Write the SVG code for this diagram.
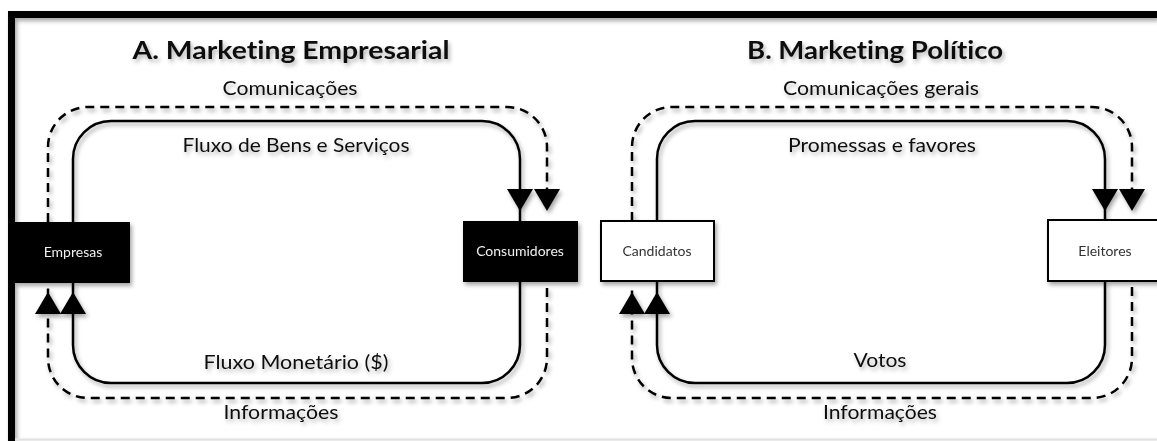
<svg xmlns="http://www.w3.org/2000/svg" width="1157" height="441" viewBox="0 0 1157 441">
  <defs>
    <filter id="sh" x="-20%" y="-20%" width="140%" height="140%">
      <feDropShadow dx="2" dy="3" stdDeviation="2" flood-color="#000" flood-opacity="0.35"/>
    </filter>
    <filter id="tsh" x="-10%" y="-30%" width="120%" height="160%">
      <feDropShadow dx="2" dy="3" stdDeviation="2" flood-color="#000" flood-opacity="0.3"/>
    </filter>
  </defs>
  <style>
    text { font-variant-ligatures: none; font-feature-settings: "liga" 0, "clig" 0; }
    .title { font-family: Lato, "Open Sans", "Liberation Sans", sans-serif; font-weight: bold; font-size: 24px; fill: #111; text-anchor: middle; }
    .lbl { font-family: Lato, "Open Sans", "Liberation Sans", sans-serif; font-size: 20px; fill: #111; text-anchor: middle; }
    .btxt { font-family: Lato, "Open Sans", "Liberation Sans", sans-serif; font-size: 14px; text-anchor: middle; }
    .solid { fill: none; stroke: #000; stroke-width: 2.5; }
    .dash { fill: none; stroke: #000; stroke-width: 2.5; stroke-dasharray: 9 6; }
    .arr { fill: #000; }
    .dark { fill: #000; }
    .light { fill: #fff; stroke: #000; stroke-width: 2; }
  </style>
  <rect width="1157" height="441" fill="#fff"/>

  <!-- frame -->
  <g id="frame" filter="url(#sh)">
    <line x1="15" y1="439.5" x2="1157" y2="439.5" stroke="#e2e2e2" stroke-width="2"/>
    <path d="M11.5 441 V14.5 H1157" fill="none" stroke="#000" stroke-width="7"/>
  </g>

  <!-- titles and labels -->
  <g id="labels" filter="url(#tsh)">
    <text class="title" x="291" y="59" textLength="317" lengthAdjust="spacingAndGlyphs">A. Marketing Empresarial</text>
    <text class="title" x="875" y="59" textLength="256" lengthAdjust="spacingAndGlyphs">B. Marketing Político</text>
    <text class="lbl" x="290" y="95" textLength="135" lengthAdjust="spacingAndGlyphs">Comunicações</text>
    <text class="lbl" x="296" y="152" textLength="227" lengthAdjust="spacingAndGlyphs">Fluxo de Bens e Serviços</text>
    <text class="lbl" x="296" y="369" textLength="185" lengthAdjust="spacingAndGlyphs">Fluxo Monetário ($)</text>
    <text class="lbl" x="281" y="419" textLength="115" lengthAdjust="spacingAndGlyphs">Informações</text>
    <text class="lbl" x="881" y="95" textLength="196" lengthAdjust="spacingAndGlyphs">Comunicações gerais</text>
    <text class="lbl" x="882" y="152" textLength="188" lengthAdjust="spacingAndGlyphs">Promessas e favores</text>
    <text class="lbl" x="880" y="367" textLength="53" lengthAdjust="spacingAndGlyphs">Votos</text>
    <text class="lbl" x="880" y="419" textLength="114" lengthAdjust="spacingAndGlyphs">Informações</text>
  </g>

  <!-- connectors -->
  <g id="connectors" filter="url(#sh)">
    <!-- A -->
    <path class="solid" d="M73 222 V159 A38 38 0 0 1 111 121 H482 A38 38 0 0 1 520 159 V221"/>
    <path class="solid" d="M520 282 V345 A38 38 0 0 1 482 383 H111 A38 38 0 0 1 73 345 V283"/>
    <path class="dash" d="M48 222 V147 A40 40 0 0 1 88 107 H507 A40 40 0 0 1 547 147 V205"/>
    <path class="dash" d="M547 288 V358 A40 40 0 0 1 507 398 H88 A40 40 0 0 1 48 358 V288"/>
    <polygon class="arr" points="507,189 533,189 520,211"/>
    <polygon class="arr" points="534,189 560,189 547,211"/>
    <polygon class="arr" points="35,314 61,314 48,292"/>
    <polygon class="arr" points="60,314 86,314 73,292"/>
    <!-- B -->
    <path class="solid" d="M657 221 V159 A38 38 0 0 1 695 121 H1067 A38 38 0 0 1 1105 159 V220"/>
    <path class="solid" d="M1105 281 V345 A38 38 0 0 1 1067 383 H695 A38 38 0 0 1 657 345 V281"/>
    <path class="dash" d="M632 221 V147 A40 40 0 0 1 672 107 H1092 A40 40 0 0 1 1132 147 V205"/>
    <path class="dash" d="M1132 287 V358 A40 40 0 0 1 1092 398 H672 A40 40 0 0 1 632 358 V288"/>
    <polygon class="arr" points="1092,189 1118,189 1105,211"/>
    <polygon class="arr" points="1119,189 1145,189 1132,211"/>
    <polygon class="arr" points="619,314 645,314 632,292"/>
    <polygon class="arr" points="644,314 670,314 657,292"/>
  </g>

  <!-- nodes -->
  <g id="empresas" filter="url(#sh)">
    <rect class="dark" x="15" y="222" width="115" height="61"/>
    <text class="btxt" x="73" y="257" fill="#f0f0f0">Empresas</text>
  </g>
  <g id="consumidores" filter="url(#sh)">
    <rect class="dark" x="463" y="221" width="115" height="61"/>
    <text class="btxt" x="520" y="256" fill="#f0f0f0">Consumidores</text>
  </g>
  <g id="candidatos" filter="url(#sh)">
    <rect class="light" x="601" y="221" width="113" height="60"/>
    <text class="btxt" x="657" y="256" fill="#333">Candidatos</text>
  </g>
  <g id="eleitores" filter="url(#sh)">
    <rect class="light" x="1048" y="220" width="116" height="61"/>
    <text class="btxt" x="1105" y="256" fill="#333">Eleitores</text>
  </g>
</svg>
